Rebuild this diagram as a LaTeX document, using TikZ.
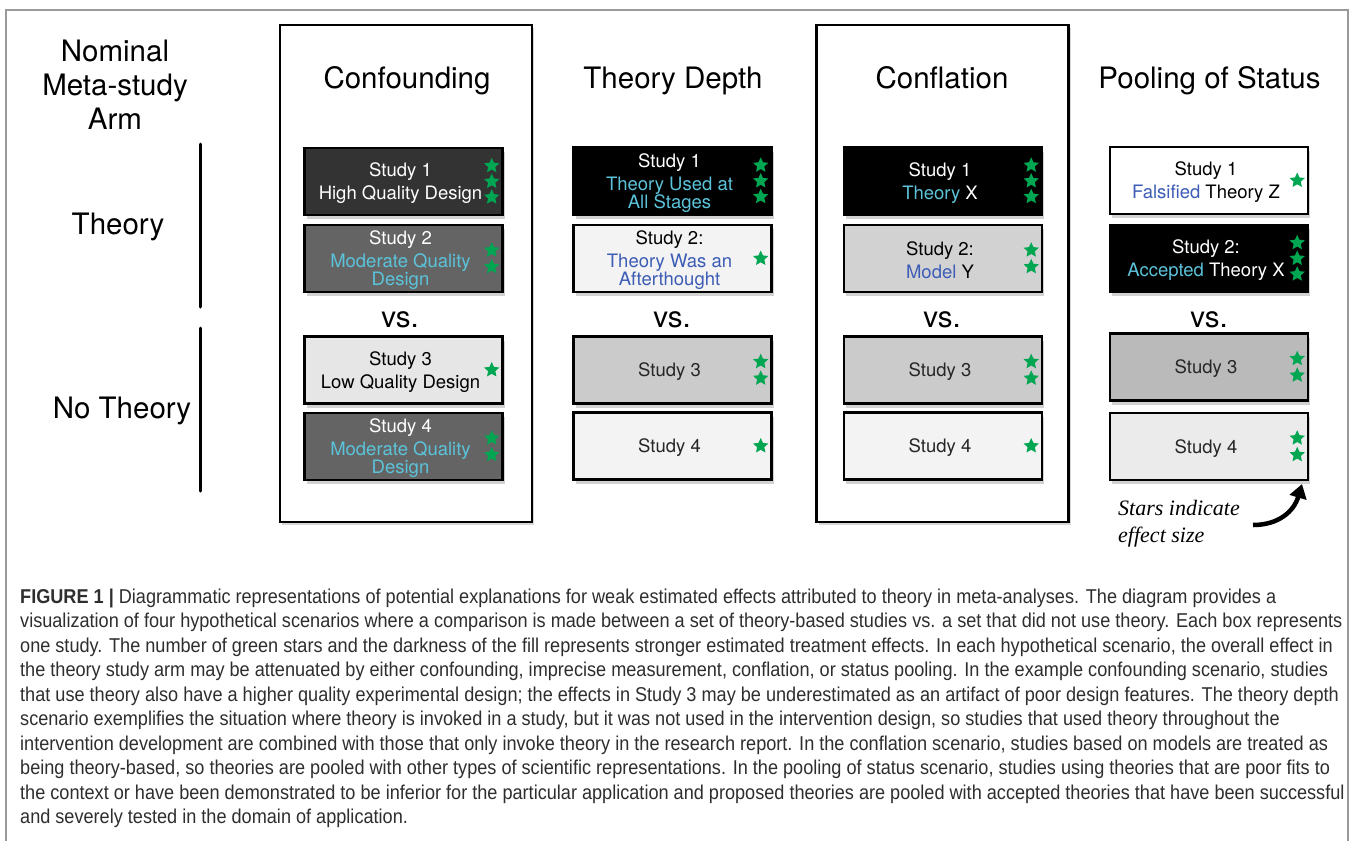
\documentclass[tikz,border=0pt]{standalone}
\usepackage{fontspec}
\usepackage{graphicx}
\setmainfont{TeX Gyre Heros}
\newfontfamily\capfont{Liberation Sans}
\newfontfamily\notefont{Liberation Serif}
\usetikzlibrary{shapes.geometric,shadows,arrows.meta}

\definecolor{stargreen}{HTML}{00A651}
\definecolor{cyantext}{HTML}{5BC3DA}
\definecolor{bluetext}{HTML}{3C5CB6}
\definecolor{fillDark}{HTML}{333333}
\definecolor{fillMid}{HTML}{646464}
\definecolor{fillLow}{HTML}{E6E6E6}
\definecolor{fillPale}{HTML}{F3F3F3}
\definecolor{fillGrey}{HTML}{CBCBCB}
\definecolor{fillModel}{HTML}{D2D2D2}
\definecolor{fillPoolA}{HTML}{BABABA}
\definecolor{fillPoolB}{HTML}{EBEBEB}
\definecolor{captext}{HTML}{2E2E2E}
\definecolor{framegrey}{HTML}{9A9A9A}

\newcommand\cy[1]{\textcolor{cyantext}{#1}}
\newcommand\bl[1]{\textcolor{bluetext}{#1}}

% caption lines
\newcommand\capA{\textbf{FIGURE 1 |} Diagrammatic representations of potential explanations for weak estimated effects attributed to theory in meta-analyses. The diagram provides a}
\newcommand\capB{visualization of four hypothetical scenarios where a comparison is made between a set of theory-based studies vs. a set that did not use theory. Each box represents}
\newcommand\capC{one study. The number of green stars and the darkness of the fill represents stronger estimated treatment effects. In each hypothetical scenario, the overall effect in}
\newcommand\capD{the theory study arm may be attenuated by either confounding, imprecise measurement, conflation, or status pooling. In the example confounding scenario, studies}
\newcommand\capE{that use theory also have a higher quality experimental design; the effects in Study 3 may be underestimated as an artifact of poor design features. The theory depth}
\newcommand\capF{scenario exemplifies the situation where theory is invoked in a study, but it was not used in the intervention design, so studies that used theory throughout the}
\newcommand\capG{intervention development are combined with those that only invoke theory in the research report. In the conflation scenario, studies based on models are treated as}
\newcommand\capH{being theory-based, so theories are pooled with other types of scientific representations. In the pooling of status scenario, studies using theories that are poor fits to}
\newcommand\capI{the context or have been demonstrated to be inferior for the particular application and proposed theories are pooled with accepted theories that have been successful}
\newcommand\capJ{and severely tested in the domain of application.}

\newcommand\capstyle{\capfont\fontsize{20}{24}\selectfont}
\newlength\capsum
\newlength\capone
\newsavebox\capmeasure
\newcommand\addcap[1]{\sbox\capmeasure{\capstyle #1}\global\advance\capsum\wd\capmeasure}
% one horizontal scale for every caption line
\newcommand\capline[1]{\scalebox{\capscale}[1]{\capstyle\color{captext}#1}}

% green stars at the right end of a study box
\newcommand\putstars[2]{%
  \ifcase#2\or
    \node[gstar] (#1-s1) at ([xshift=-12pt]#1.east) {};
  \or
    \node[gstar] (#1-s1) at ([xshift=-12pt,yshift=8.3pt]#1.east) {};
    \node[gstar] (#1-s2) at ([xshift=-12pt,yshift=-8.3pt]#1.east) {};
  \or
    \node[gstar] (#1-s1) at ([xshift=-12pt,yshift=15.7pt]#1.east) {};
    \node[gstar] (#1-s2) at ([xshift=-12pt]#1.east) {};
    \node[gstar] (#1-s3) at ([xshift=-12pt,yshift=-15.7pt]#1.east) {};
  \fi}

% #1 name, #2 x, #3 y, #4 fill, #5 text colour, #6 text, #7 stars
\newcommand\studybox[7]{%
  \node[studyframe,fill=#4] (#1) at (#2,#3) {};
  \node[studytext,text=#5] (#1-t) at ([xshift=-3pt,yshift=-2pt]#1.center) {#6};
  \putstars{#1}{#7}}

\begin{document}
% common width scale of the caption text
\global\capsum=0pt
\addcap{\capA}\addcap{\capB}\addcap{\capC}\addcap{\capD}\addcap{\capE}%
\addcap{\capF}\addcap{\capG}\addcap{\capH}\addcap{\capI}\addcap{\capJ}%
\pgfmathsetmacro\capscaletmp{12107/\capsum}%
\xdef\capscale{\capscaletmp}%
\begin{tikzpicture}[x=1pt,y=-1pt,
  studyframe/.style={draw=black,line width=2.4pt,minimum width=198pt,minimum height=67pt,
    inner sep=0pt,drop shadow={opacity=0.35,shadow xshift=2pt,shadow yshift=-4pt}},
  studytext/.style={font=\fontsize{18.5}{18}\selectfont,align=center,inner sep=0pt},
  gstar/.style={star,star points=5,star point ratio=2.1,minimum size=16pt,inner sep=0pt,
    fill=stargreen,draw=none},
  colframe/.style={draw=black,line width=2.6pt,minimum width=252pt,minimum height=497pt,
    inner sep=0pt,fill=white,drop shadow={opacity=0.3,shadow xshift=2pt,shadow yshift=-3pt}},
  bigtext/.style={font=\fontsize{29.5}{34}\selectfont,inner sep=0pt,align=center},
  armbar/.style={line width=3pt,line cap=round},
  notetext/.style={font=\notefont\itshape\fontsize{22}{27}\selectfont,inner sep=0pt,anchor=base west},
  capnode/.style={anchor=base west,inner sep=0pt},
]
\useasboundingbox[fill=white] (0,0) rectangle (1357,841);

% outer figure frame (open at the bottom edge)
\coordinate (ofBL) at (6,841);
\coordinate (ofTL) at (6,10);
\coordinate (ofTR) at (1348,10);
\coordinate (ofBR) at (1348,841);
\draw[framegrey,line width=1.2pt] (ofBL) -- (ofTL) -- (ofTR) -- (ofBR);

% highlighted scenario columns
\node[colframe] (colA) at (406,273.5) {};
\node[colframe] (colC) at (942.5,273.5) {};

% row labels
\node[bigtext,anchor=base] (nominal) at (115,61) {Nominal};
\node[bigtext,anchor=base] (metastudy) at (115,95) {Meta-study};
\node[bigtext,anchor=base] (arm) at (115,129) {Arm};
\node[bigtext] (lblTheory) at (118,227) {Theory};
\node[bigtext] (lblNoTheory) at (122,411) {No Theory};

\coordinate (barAtop) at (200,144);
\coordinate (barAbot) at (200,307);
\coordinate (barBtop) at (200,328);
\coordinate (barBbot) at (200,491);
\draw[armbar] (barAtop) -- (barAbot);
\draw[armbar] (barBtop) -- (barBbot);

% scenario titles
\node[bigtext,anchor=base] (ttlA) at (407,88) {Confounding};
\node[bigtext,anchor=base] (ttlB) at (673,88) {Theory Depth};
\node[bigtext,anchor=base] (ttlC) at (942,88) {Conflation};
\node[bigtext,anchor=base] (ttlD) at (1209.5,88) {Pooling of Status};

% vs. separators
\node[bigtext,anchor=base] (vsA) at (400,327) {vs.};
\node[bigtext,anchor=base] (vsB) at (672,327) {vs.};
\node[bigtext,anchor=base] (vsC) at (942,327) {vs.};
\node[bigtext,anchor=base] (vsD) at (1209,327) {vs.};

% Confounding
\studybox{a1}{403.5}{181.5}{fillDark}{white}{Study 1\\[5pt]High Quality Design}{3}
\studybox{a2}{403.5}{258.5}{fillMid}{white}{Study 2\\[5pt]\cy{Moderate Quality}\\\cy{Design}}{2}
\studybox{a3}{403.5}{370}{fillLow}{black}{Study 3\\[5pt]Low Quality Design}{1}
\studybox{a4}{403.5}{446.5}{fillMid}{white}{Study 4\\[5pt]\cy{Moderate Quality}\\\cy{Design}}{2}

% Theory Depth
\studybox{b1}{672.5}{181}{black}{white}{Study 1\\[5pt]\cy{Theory Used at}\\\cy{All Stages}}{3}
\studybox{b2}{672.5}{258.5}{fillPale}{black}{Study 2:\\[5pt]\bl{Theory Was an}\\\bl{Afterthought}}{1}
\studybox{b3}{672.5}{370}{fillGrey}{black!85}{Study 3}{2}
\studybox{b4}{672.5}{446}{fillPale}{black!85}{Study 4}{1}

% Conflation
\studybox{c1}{943}{181}{black}{white}{Study 1\\[5pt]\cy{Theory} X}{3}
\studybox{c2}{943}{258.5}{fillModel}{black}{Study 2:\\[5pt]\bl{Model} Y}{2}
\studybox{c3}{943}{370}{fillGrey}{black!85}{Study 3}{2}
\studybox{c4}{943}{446}{fillPale}{black!85}{Study 4}{1}

% Pooling of Status
\studybox{d1}{1209}{180.5}{white}{black}{Study 1\\[5pt]\bl{Falsified} Theory Z}{1}
\studybox{d2}{1209}{258.5}{black}{white}{Study 2:\\[5pt]\cy{Accepted} Theory X}{3}
\studybox{d3}{1209}{367}{fillPoolA}{black!85}{Study 3}{2}
\studybox{d4}{1209}{446.5}{fillPoolB}{black!85}{Study 4}{2}

% star legend
\node[notetext] (note1) at (1118,515) {Stars indicate};
\node[notetext] (note2) at (1118,542) {effect size};
\coordinate (noteTail) at (1253,525);
\coordinate (noteTip) at (1302,484);
\draw[line width=4.5pt,-{Triangle[width=17pt,length=14pt]}]
  (noteTail) .. controls (1279,525) and (1294,511) .. (noteTip);

% caption
\node[capnode] (cap1) at (20,603) {\capline{\capA}};
\node[capnode] (cap2) at (20,627.5) {\capline{\capB}};
\node[capnode] (cap3) at (20,652) {\capline{\capC}};
\node[capnode] (cap4) at (20,676.5) {\capline{\capD}};
\node[capnode] (cap5) at (20,701) {\capline{\capE}};
\node[capnode] (cap6) at (20,725.5) {\capline{\capF}};
\node[capnode] (cap7) at (20,750) {\capline{\capG}};
\node[capnode] (cap8) at (20,774.5) {\capline{\capH}};
\node[capnode] (cap9) at (20,799) {\capline{\capI}};
\node[capnode] (cap10) at (20,823.5) {\capline{\capJ}};
\end{tikzpicture}
\end{document}
